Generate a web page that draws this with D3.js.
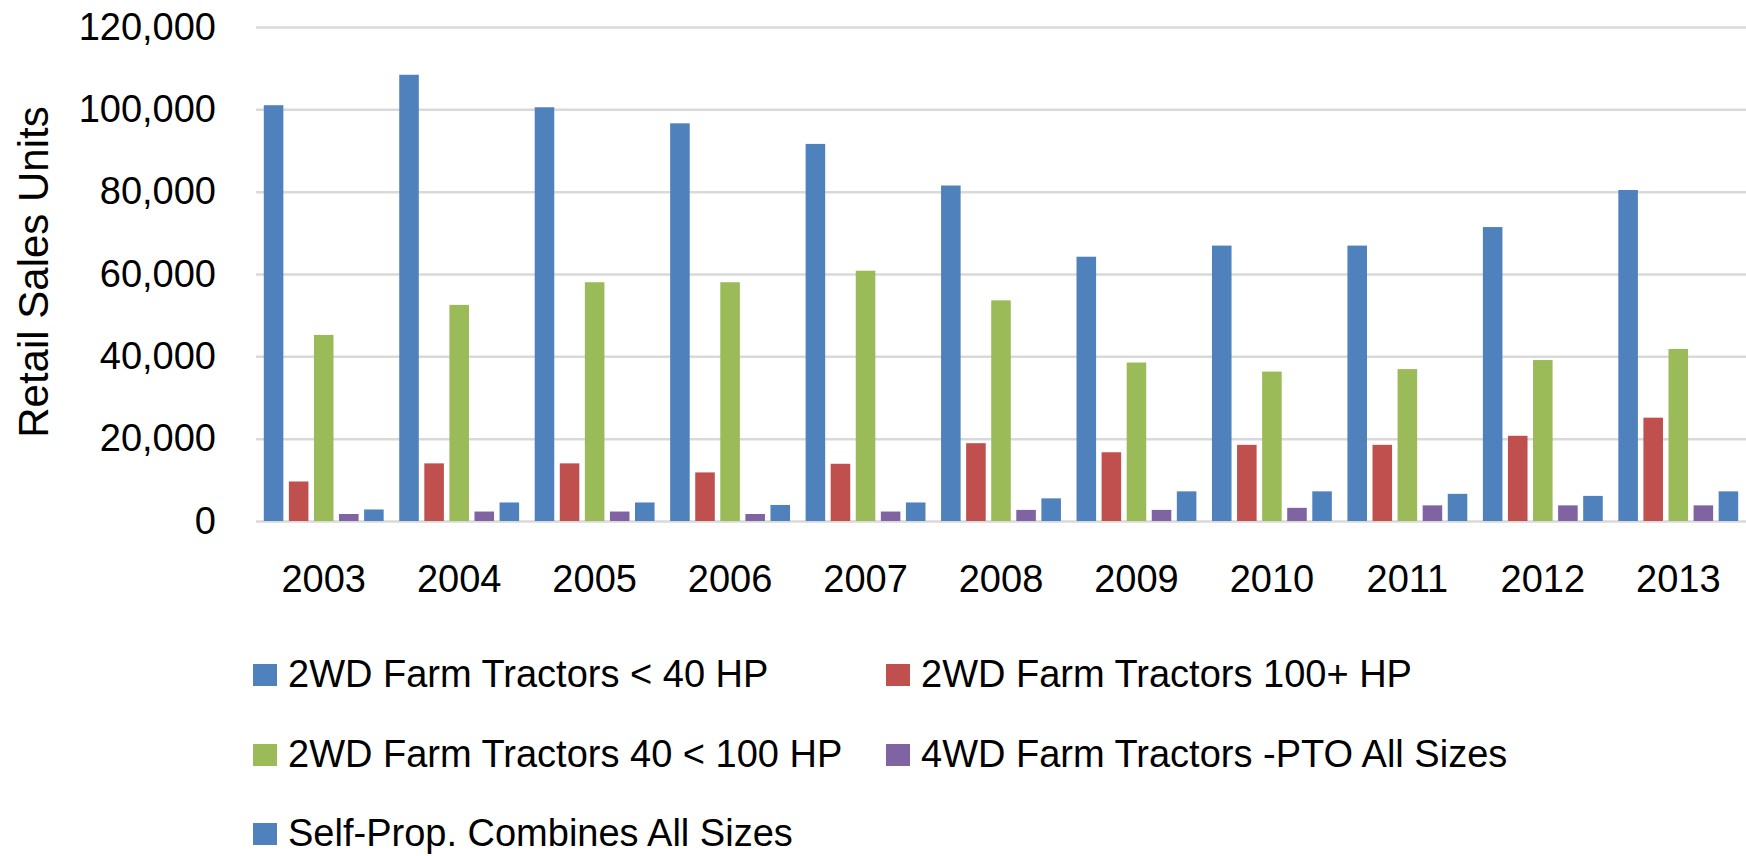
<!DOCTYPE html>
<html>
<head>
<meta charset="utf-8">
<script src="https://cdnjs.cloudflare.com/ajax/libs/d3/7.8.5/d3.min.js"></script>
<style>
  html, body { margin: 0; padding: 0; background: #fff; }
  svg text { font-family: "Liberation Sans", Arial, sans-serif; fill: #000; }
</style>
</head>
<body>
<svg id="chart" width="1746" height="856"></svg>
<script>

// data (retail sales units)
var years = ["2003","2004","2005","2006","2007","2008","2009","2010","2011","2012","2013"];

var seriesNames = [
  "2WD Farm Tractors < 40 HP",
  "2WD Farm Tractors 100+ HP",
  "2WD Farm Tractors 40 < 100 HP",
  "4WD Farm Tractors -PTO All Sizes",
  "Self-Prop. Combines All Sizes"
];

var under40     = [101000, 108400, 100500, 96600, 91600, 81500, 64200, 66900, 66900, 71400, 80400];
var over100     = [9600, 14000, 14000, 11800, 13900, 18900, 16700, 18500, 18500, 20700, 25100];
var hp40to100   = [45200, 52500, 58000, 58000, 60800, 53600, 38500, 36300, 36900, 39100, 41800];
var fourWD      = [1700, 2300, 2300, 1700, 2300, 2700, 2700, 3200, 3800, 3800, 3800];
var combines    = [2800, 4500, 4500, 3900, 4500, 5500, 7200, 7200, 6600, 6100, 7200];

var seriesValues = [under40, over100, hp40to100, fourWD, combines];
var colors = ["#4F81BD", "#C0504D", "#9BBB59", "#8064A2", "#4F81BD"];

var yTicks = [0, 20000, 40000, 60000, 80000, 100000, 120000];

var svg = d3.select('#chart');

var plotLeft = 256, plotRight = 1746, plotTop = 27, plotBottom = 521;

var x0 = d3.scaleBand()
  .domain(years)
  .range([plotLeft, plotRight])
  .paddingInner(0.115)
  .paddingOuter(0.0575);

var x1 = d3.scaleBand()
  .domain(d3.range(seriesNames.length))
  .range([0, x0.bandwidth()])
  .paddingInner(0.22);

var y = d3.scaleLinear()
  .domain([0, 120000])
  .range([plotBottom, plotTop]);

//gridlines + tick labels
var yAxis = d3.axisLeft(y)
  .tickValues(yTicks)
  .tickFormat(d3.format(','))
  .tickSize(-(plotRight - plotLeft))
  .tickPadding(40);

var gy = svg.append('g')
  .attr('transform', 'translate(' + plotLeft + ',0)')
  .call(yAxis);

gy.select('.domain').remove();
gy.selectAll('.tick line')
  .attr('stroke', '#D9D9D9')
  .attr('stroke-width', 2.5);
gy.selectAll('.tick text')
  .attr('font-size', 38)
  .attr('font-family', '"Liberation Sans", Arial, sans-serif')
  .attr('fill', '#000');

//bars, one group per year
var groups = svg.append('g').selectAll('g')
  .data(years)
  .join('g')
  .attr('transform', function(d) { return 'translate(' + x0(d) + ',0)'; });

groups.selectAll('rect')
  .data(function(d, i) {
    return seriesValues.map(function(vals, s) { return { s: s, v: vals[i] }; });
  })
  .join('rect')
  .attr('x', function(d) { return x1(d.s); })
  .attr('width', x1.bandwidth())
  .attr('y', function(d) { return y(d.v); })
  .attr('height', function(d) { return y(0) - y(d.v); })
  .attr('fill', function(d) { return colors[d.s]; });

//year labels
var xAxis = d3.axisBottom(x0).tickSize(0).tickPadding(44);
var gx = svg.append('g')
  .attr('transform', 'translate(0,' + plotBottom + ')')
  .call(xAxis);
gx.select('.domain').remove();
gx.selectAll('.tick text')
  .attr('font-size', 38)
  .attr('font-family', '"Liberation Sans", Arial, sans-serif')
  .attr('fill', '#000');

//axis title
svg.append('text')
  .attr('transform', 'translate(48,272) rotate(-90)')
  .attr('text-anchor', 'middle')
  .attr('font-size', 42)
  .text('Retail Sales Units');

//legend, two columns
var legendCols = [253, 886];
var legendRows = [675, 755, 834];

var legend = svg.append('g').selectAll('g')
  .data(seriesNames)
  .join('g')
  .attr('transform', function(d, i) {
    return 'translate(' + legendCols[i % 2] + ',' + legendRows[Math.floor(i / 2)] + ')';
  });

legend.append('rect')
  .attr('x', 0)
  .attr('y', -11)
  .attr('width', 24)
  .attr('height', 22)
  .attr('fill', function(d, i) { return colors[i]; });

legend.append('text')
  .attr('x', 35)
  .attr('y', 12)
  .attr('font-size', 38)
  .text(function(d) { return d; });

</script>
</body>
</html>
